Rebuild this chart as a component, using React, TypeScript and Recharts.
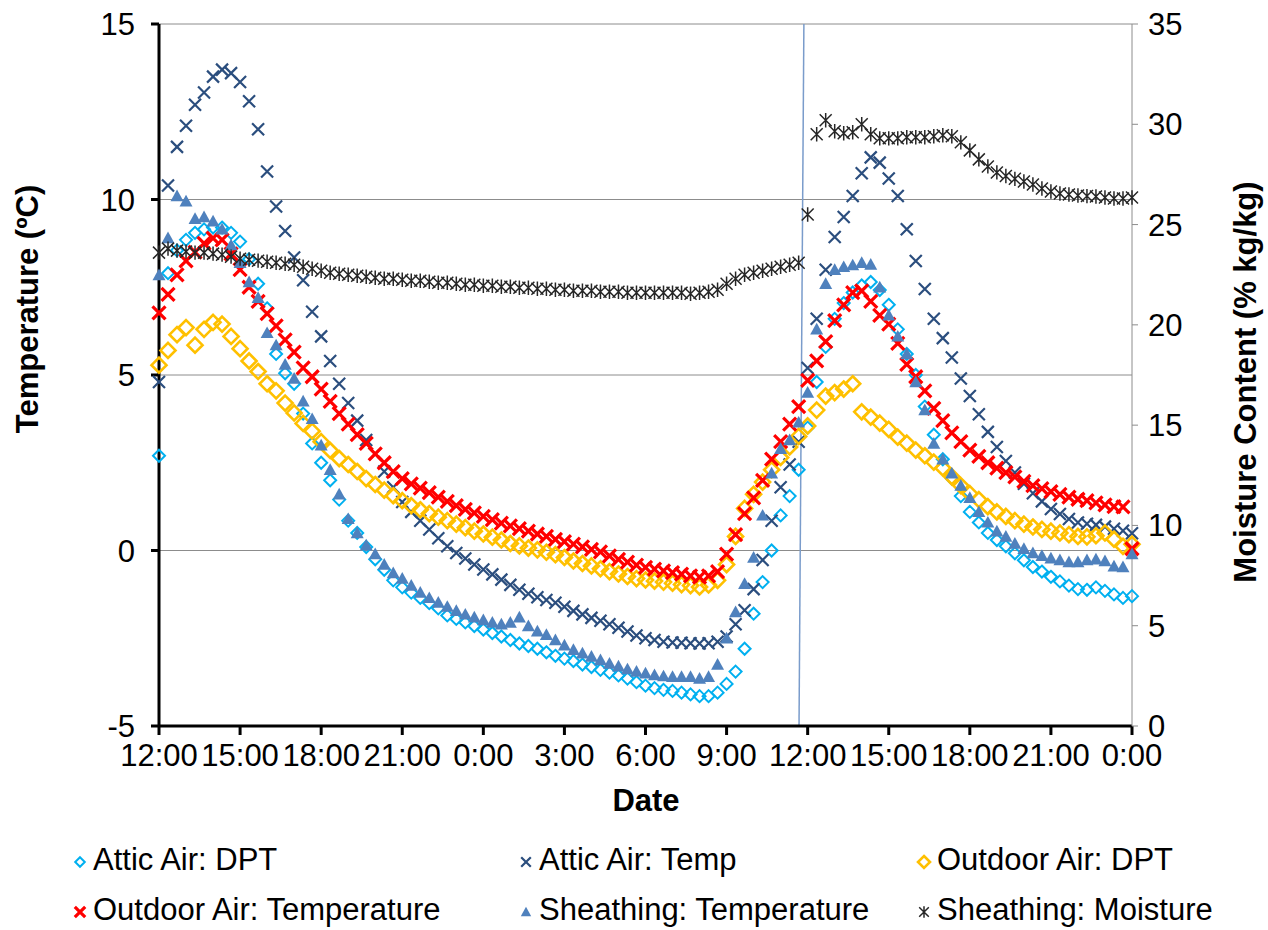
import React from 'react';
import { ComposedChart, Line, XAxis, YAxis, CartesianGrid, ReferenceLine } from 'recharts';

// readings every 20 minutes, starting 12:00
const STEP_H = 1 / 3;
const hourTicks = [0, 3, 6, 9, 12, 15, 18, 21, 24, 27, 30, 33, 36];
const tempTicks = [-5, 0, 5, 10, 15];
const moistTicks = [0, 5, 10, 15, 20, 25, 30, 35];

const atticDpt = [
  2.7, 7.9, 8.55, 8.85, 9.05, 9.15, 9.2, 9.2, 9.05, 8.8, 8.3, 7.6,
  6.9, 5.6, 5.05, 4.75, 3.9, 3.05, 2.5, 2.0, 1.45, 0.85, 0.5, 0.1,
  -0.25, -0.55, -0.85, -1.05, -1.2, -1.35, -1.5, -1.65, -1.85, -1.95, -2.05, -2.15,
  -2.25, -2.35, -2.45, -2.55, -2.65, -2.72, -2.8, -2.9, -3.0, -3.08, -3.15, -3.25,
  -3.32, -3.4, -3.48, -3.56, -3.65, -3.75, -3.85, -3.92, -3.97, -4.0, -4.05, -4.1,
  -4.15, -4.15, -4.05, -3.8, -3.45, -2.8, -1.8, -0.9, 0.0, 1.0, 1.55, 2.3,
  3.5, 4.8, 5.8, 6.6, 7.05, 7.35, 7.55, 7.65, 7.42, 7.0, 6.3, 5.6,
  5.0, 4.1, 3.3, 2.6, 2.05, 1.55, 1.1, 0.8, 0.5, 0.3, 0.12, -0.08,
  -0.28, -0.47, -0.6, -0.75, -0.88, -1.0, -1.1, -1.12, -1.05, -1.15, -1.25, -1.35,
  -1.3,
];

const atticTemp = [
  4.8, 10.4, 11.5, 12.1, 12.7, 13.05, 13.5, 13.7, 13.6, 13.35, 12.8, 12.0,
  10.8, 9.8, 9.1, 8.35, 7.7, 6.8, 6.1, 5.4, 4.75, 4.2, 3.7, 3.15,
  2.75, 2.25, 1.8, 1.38, 1.1, 0.85, 0.6, 0.35, 0.12, -0.07, -0.23, -0.4,
  -0.54, -0.68, -0.83, -0.98, -1.12, -1.23, -1.33, -1.41, -1.49, -1.6, -1.72, -1.82,
  -1.92, -2.0, -2.1, -2.2, -2.31, -2.42, -2.5, -2.55, -2.6, -2.62, -2.63, -2.64,
  -2.65, -2.64, -2.6, -2.45, -2.1, -1.7, -1.1, -0.27, 0.85, 1.8, 2.45, 3.1,
  5.2, 6.6, 8.0, 8.93, 9.5, 10.1, 10.75, 11.2, 11.05, 10.6, 10.1, 9.15,
  8.25, 7.45, 6.6, 6.05, 5.5, 4.9, 4.4, 3.88, 3.38, 2.95, 2.55, 2.22,
  1.9, 1.63, 1.4, 1.18, 1.04, 0.9, 0.8, 0.76, 0.73, 0.68, 0.62, 0.56,
  0.49,
];

const outdoorDpt = [
  5.28, 5.7, 6.15, 6.35, 5.85, 6.3, 6.5, 6.45, 6.1, 5.75, 5.4, 5.1,
  4.75, 4.55, 4.2, 3.92, 3.62, 3.4, 3.1, 2.85, 2.62, 2.45, 2.25, 2.05,
  1.88, 1.72, 1.56, 1.42, 1.28, 1.16, 1.05, 0.95, 0.85, 0.75, 0.65, 0.55,
  0.47, 0.38, 0.3, 0.2, 0.13, 0.07, 0.02, -0.05, -0.12, -0.2, -0.3, -0.37,
  -0.44, -0.52, -0.6, -0.67, -0.74, -0.8, -0.84, -0.87, -0.9, -0.93, -0.97, -1.0,
  -1.04, -0.98, -0.85, -0.4, 0.4, 1.2, 1.6, 1.95, 2.3, 2.65, 2.95, 3.25,
  3.55, 4.0, 4.4, 4.5, 4.6, 4.75, 3.95, 3.8, 3.63, 3.45, 3.23, 3.06,
  2.86, 2.7, 2.52, 2.35, 2.1, 1.85, 1.62, 1.45, 1.25, 1.1, 0.97, 0.85,
  0.75, 0.67, 0.6, 0.55, 0.5, 0.45, 0.4, 0.39, 0.42, 0.5, 0.32, 0.12,
  0.18,
];

const outdoorTemp = [
  6.77, 7.3, 7.85, 8.25, 8.5, 8.75, 8.9, 8.85, 8.45, 8.0, 7.5, 7.1,
  6.75, 6.4, 6.0, 5.65, 5.2, 4.95, 4.6, 4.25, 3.9, 3.6, 3.3, 3.05,
  2.75, 2.5, 2.25, 2.05, 1.9, 1.78, 1.65, 1.52, 1.4, 1.28, 1.17, 1.07,
  0.97, 0.88, 0.78, 0.7, 0.62, 0.55, 0.47, 0.4, 0.32, 0.25, 0.18, 0.1,
  0.03, -0.04, -0.15, -0.25, -0.33, -0.42, -0.48, -0.53, -0.58, -0.63, -0.67, -0.72,
  -0.76, -0.72, -0.6, -0.1, 0.45, 1.05, 1.5, 2.0, 2.6, 3.1, 3.6, 4.1,
  4.85, 5.4, 5.95, 6.55, 7.0, 7.35, 7.4, 7.1, 6.7, 6.45, 5.9, 5.3,
  4.95, 4.55, 4.05, 3.7, 3.35, 3.1, 2.86, 2.68, 2.5, 2.35, 2.22, 2.1,
  1.97, 1.85, 1.76, 1.68, 1.6, 1.52, 1.46, 1.42, 1.36, 1.3, 1.25, 1.24,
  0.05,
];

const sheathTemp = [
  7.85, 8.9, 10.1, 9.95, 9.45, 9.5, 9.38, 9.15, 8.7, 8.2, 7.65, 7.2,
  6.2, 5.85, 5.3, 4.9, 4.25, 3.75, 3.0, 2.3, 1.6, 0.9, 0.5, 0.15,
  -0.1, -0.4, -0.64, -0.8, -1.0, -1.2, -1.35, -1.48, -1.6, -1.72, -1.82, -1.9,
  -1.98, -2.05, -2.1, -2.05, -1.9, -2.15, -2.3, -2.4, -2.55, -2.7, -2.83, -2.93,
  -3.02, -3.12, -3.22, -3.3, -3.38, -3.45, -3.5, -3.55, -3.58, -3.6, -3.6, -3.6,
  -3.65, -3.6, -3.25, -2.5, -1.75, -0.95, -0.2, 1.0, 2.2, 2.9, 3.15, 3.65,
  4.5, 6.3, 7.6, 8.0, 8.08, 8.13, 8.2, 8.15, 7.5, 6.7, 6.1, 5.6,
  4.8, 4.0, 3.05, 2.6, 2.2, 1.85, 1.5, 1.1, 0.8, 0.55, 0.4, 0.2,
  0.05, -0.07, -0.15, -0.22, -0.27, -0.33, -0.33, -0.27, -0.25, -0.3, -0.45, -0.47,
  -0.1,
];

const sheathMoisture = [
  23.6, 23.8, 23.7, 23.65, 23.6, 23.6, 23.55, 23.5, 23.4, 23.3, 23.25, 23.2,
  23.15, 23.1, 23.05, 23.0, 22.9, 22.8, 22.7, 22.6, 22.55, 22.5, 22.45, 22.4,
  22.35, 22.3, 22.3, 22.25, 22.2, 22.2, 22.15, 22.1, 22.1, 22.05, 22.0, 22.0,
  21.95, 21.95, 21.9, 21.9, 21.85, 21.85, 21.8, 21.8, 21.75, 21.75, 21.7, 21.7,
  21.7, 21.65, 21.65, 21.65, 21.6, 21.6, 21.6, 21.6, 21.6, 21.6, 21.6, 21.55,
  21.6, 21.65, 21.75, 22.05, 22.3, 22.5, 22.6, 22.7, 22.8, 22.9, 23.0, 23.1,
  25.5, 29.5, 30.2, 29.65, 29.55, 29.6, 30.0, 29.5, 29.3, 29.3, 29.3, 29.35,
  29.35, 29.35, 29.4, 29.45, 29.4, 29.1, 28.7, 28.25, 27.9, 27.6, 27.42, 27.28,
  27.15, 27.0, 26.8, 26.65, 26.55, 26.5, 26.45, 26.42, 26.4, 26.35, 26.3, 26.3,
  26.35,
];

const rows = atticDpt.map((_, i) => ({
  h: i * STEP_H,
  atticDpt: atticDpt[i],
  atticTemp: atticTemp[i],
  outdoorDpt: outdoorDpt[i],
  outdoorTemp: outdoorTemp[i],
  sheathTemp: sheathTemp[i],
  sheathMoisture: sheathMoisture[i],
}));

const FONT = '"Liberation Sans", Arial, sans-serif';
const C_ADPT = '#00B0F0';
const C_ATEMP = '#2B4E7E';
const C_ODPT = '#FFC000';
const C_OTEMP = '#FF0000';
const C_STEMP = '#4F81BD';
const C_MOIST = '#262626';

const hourLabel = (h: number) => `${(12 + h) % 24}:00`;

// marker shapes, shared by the plot and the legend
const diamondPath = (x: number, y: number, r: number) => `M${x},${y - r}L${x + r},${y}L${x},${y + r}L${x - r},${y}Z`;
const crossPath = (x: number, y: number, r: number) => `M${x - r},${y - r}L${x + r},${y + r}M${x - r},${y + r}L${x + r},${y - r}`;
const triPath = (x: number, y: number, r: number) => `M${x},${y - r}L${x + r},${y + r * 0.8}L${x - r},${y + r * 0.8}Z`;
const starPath = (x: number, y: number, r: number) => `${crossPath(x, y, r)}M${x},${y - r * 1.2}L${x},${y + r * 1.2}`;

type Mk = 'adpt' | 'atemp' | 'odpt' | 'otemp' | 'stemp' | 'moist';

const marker = (kind: Mk, x: number, y: number, k: string | number, s = 1) => {
  switch (kind) {
    case 'adpt':
      return <path key={k} d={diamondPath(x, y, 6 * s)} fill="none" stroke={C_ADPT} strokeWidth={2} />;
    case 'atemp':
      return <path key={k} d={crossPath(x, y, 6 * s)} fill="none" stroke={C_ATEMP} strokeWidth={2.2} />;
    case 'odpt':
      return <path key={k} d={diamondPath(x, y, 7.5 * s)} fill="none" stroke={C_ODPT} strokeWidth={2.6} />;
    case 'otemp':
      return <path key={k} d={crossPath(x, y, 6.5 * s)} fill="none" stroke={C_OTEMP} strokeWidth={3.2} />;
    case 'stemp':
      return <path key={k} d={triPath(x, y, 6.5 * s)} fill={C_STEMP} stroke="none" />;
    default:
      return <path key={k} d={starPath(x, y, 6 * s)} fill="none" stroke={C_MOIST} strokeWidth={1.5} />;
  }
};

const dotFor = (kind: Mk) => (p: any) => {
  if (p.cx == null || p.cy == null) return <g key={`e${p.index}`} />;
  return marker(kind, p.cx, p.cy, `${kind}${p.index}`);
};

const legendItems: { kind: Mk; name: string; x: number; y: number }[] = [
  { kind: 'adpt', name: 'Attic Air: DPT', x: 80, y: 862 },
  { kind: 'atemp', name: 'Attic Air: Temp', x: 526, y: 862 },
  { kind: 'odpt', name: 'Outdoor Air: DPT', x: 924, y: 862 },
  { kind: 'otemp', name: 'Outdoor Air: Temperature', x: 80, y: 912 },
  { kind: 'stemp', name: 'Sheathing: Temperature', x: 526, y: 912 },
  { kind: 'moist', name: 'Sheathing: Moisture', x: 924, y: 912 },
];

const tickStyle = { fill: '#000', fontSize: 31, fontFamily: FONT };
const titleStyle = { fill: '#000', fontSize: 31, fontFamily: FONT, fontWeight: 700 };

export default function App() {
  return (
    <div style={{ position: 'absolute', left: 0, top: 0, width: 1268, height: 930, background: '#fff' }}>
      <ComposedChart width={1268} height={930} data={rows} margin={{ top: 24, right: 0, bottom: 0, left: 0 }}>
        <CartesianGrid yAxisId="t" vertical={false} stroke="#8C8C8C" strokeWidth={1} />
        <XAxis
          dataKey="h"
          type="number"
          domain={[0, 36]}
          ticks={hourTicks}
          interval={0}
          tickFormatter={hourLabel}
          height={204}
          tick={tickStyle}
          tickSize={9}
          tickMargin={9}
          axisLine={{ stroke: '#000', strokeWidth: 3 }}
          tickLine={{ stroke: '#000', strokeWidth: 3 }}
          label={{
            content: () => (
              <text x={646} y={803} textAnchor="middle" dominantBaseline="middle" style={titleStyle}>Date</text>
            ),
          }}
        />
        <YAxis
          yAxisId="t"
          domain={[-5, 15]}
          ticks={tempTicks}
          interval={0}
          width={159}
          tick={tickStyle}
          tickSize={8}
          tickMargin={16}
          axisLine={{ stroke: '#000', strokeWidth: 3 }}
          tickLine={{ stroke: '#000', strokeWidth: 3 }}
          label={{
            content: () => (
              <text x={30} y={309} textAnchor="middle" dominantBaseline="middle" transform="rotate(-90 30 309)" style={titleStyle}>Temperature (ºC)</text>
            ),
          }}
        />
        <YAxis
          yAxisId="m"
          orientation="right"
          domain={[0, 35]}
          ticks={moistTicks}
          interval={0}
          width={136}
          tick={tickStyle}
          tickSize={6}
          tickMargin={10}
          axisLine={{ stroke: '#8C8C8C', strokeWidth: 1 }}
          tickLine={{ stroke: '#8C8C8C', strokeWidth: 1 }}
          label={{
            content: () => (
              <text x={1248} y={382} textAnchor="middle" dominantBaseline="middle" transform="rotate(-90 1248 382)" style={titleStyle}>Moisture Content (% kg/kg)</text>
            ),
          }}
        />
        <ReferenceLine
          yAxisId="t"
          segment={[{ x: 23.68, y: -5 }, { x: 23.86, y: 15 }]}
          stroke="#7A9CCB"
          strokeWidth={1.5}
        />
        <Line yAxisId="t" dataKey="atticDpt" stroke="none" dot={dotFor('adpt')} activeDot={false} isAnimationActive={false} />
        <Line yAxisId="t" dataKey="atticTemp" stroke="none" dot={dotFor('atemp')} activeDot={false} isAnimationActive={false} />
        <Line yAxisId="t" dataKey="outdoorDpt" stroke="none" dot={dotFor('odpt')} activeDot={false} isAnimationActive={false} />
        <Line yAxisId="t" dataKey="outdoorTemp" stroke="none" dot={dotFor('otemp')} activeDot={false} isAnimationActive={false} />
        <Line yAxisId="t" dataKey="sheathTemp" stroke="none" dot={dotFor('stemp')} activeDot={false} isAnimationActive={false} />
        <Line yAxisId="m" dataKey="sheathMoisture" stroke="none" dot={dotFor('moist')} activeDot={false} isAnimationActive={false} />
      </ComposedChart>
      <svg width={1268} height={930} style={{ position: 'absolute', left: 0, top: 0, pointerEvents: 'none' }}>
        {legendItems.map((it) => (
          <g key={it.name}>
            {marker(it.kind, it.x, it.y, 'm', 0.8)}
            <text x={it.x + 13} y={it.y} dominantBaseline="middle" style={{ fill: '#000', fontSize: 31, fontFamily: FONT }}>
              {it.name}
            </text>
          </g>
        ))}
      </svg>
    </div>
  );
}
